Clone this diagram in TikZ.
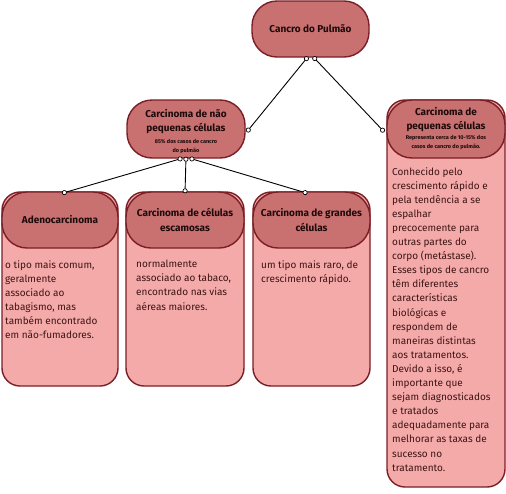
\documentclass[tikz,border=0pt]{standalone}
\usepackage{fontspec}
\setmainfont{Fira Sans}
\usetikzlibrary{arrows.meta}
\definecolor{hdr}{HTML}{C97171}
\definecolor{bodyc}{HTML}{F4AAA9}
\definecolor{bord}{HTML}{7B1E25}
\definecolor{hdrtxt}{HTML}{1E0A0A}
\definecolor{bodytxt}{HTML}{3D1414}
\tikzset{ctip/.tip={Circle[length=5pt,width=5pt,fill=white,line width=0.7pt]}}
\begin{document}
\begin{tikzpicture}[x=1pt,y=-1pt,
  hdrbox/.style={draw=bord, line width=1.4pt, fill=hdr, rounded corners=25pt, inner sep=0pt,
    text=hdrtxt, font=\fontsize{10}{14.5}\selectfont\bfseries, align=center},
  bodybox/.style={draw=bord, line width=1.4pt, fill=bodyc, rounded corners=18pt, inner sep=0pt},
  titletext/.style={inner sep=0pt, text=hdrtxt, font=\fontsize{10}{14}\selectfont\bfseries, align=center},
  subtext/.style={inner sep=0pt, text=hdrtxt, font=\fontsize{5.5}{9}\selectfont\bfseries, align=center},
  bodytext/.style={anchor=north west, inner sep=0pt, align=left, text=bodytxt, font=\fontsize{10}{14.1}\selectfont},
  conn/.style={draw=black, line width=0.9pt, ctip-ctip}
]
\useasboundingbox (0,0) rectangle (506,493);

% bodies
\node[bodybox, minimum width=118pt, minimum height=387pt] (scbody) at (446,293.5) {};
\node[bodybox, minimum width=116pt, minimum height=194pt] (adbody) at (60,289) {};
\node[bodybox, minimum width=118pt, minimum height=194pt] (esbody) at (185,289) {};
\node[bodybox, minimum width=117pt, minimum height=194pt] (grbody) at (311.5,289) {};

% headers
\node[hdrbox, minimum width=117pt, minimum height=56pt] (top) at (310.5,29) {Cancro do Pulmão};
\node[hdrbox, minimum width=118pt, minimum height=58pt] (nsc) at (186,129) {};
\node[hdrbox, minimum width=118pt, minimum height=58pt] (sc) at (446,129) {};
\node[hdrbox, minimum width=116pt, minimum height=56pt] (ad) at (60,220) {Adenocarcinoma};
\node[hdrbox, minimum width=118pt, minimum height=56pt] (es) at (185,220) {Carcinoma de células\\escamosas};
\node[hdrbox, minimum width=117pt, minimum height=56pt] (gr) at (311.5,220) {Carcinoma de grandes\\células};

% header texts with subtitles
\node[titletext] (nsct) at (186,122) {Carcinoma de não\\pequenas células};
\node[subtext] (nscs) at (186,146.5) {85\% dos casos de cancro\\do pulmão};
\node[titletext] (sct) at (446,119.5) {Carcinoma de\\pequenas células};
\node[subtext] (scs) at (446,142.5) {Representa cerca de 10-15\% dos\\casos de cancro do pulmão.};

% body texts
\node[bodytext] (adt) at (5,260) {o tipo mais comum,\\geralmente\\associado ao\\tabagismo, mas\\também encontrado\\em não-fumadores.};
\node[bodytext] (est) at (136,260) {normalmente\\associado ao tabaco,\\encontrado nas vias\\aéreas maiores.};
\node[bodytext] (grt) at (261,260) {um tipo mais raro, de\\crescimento rápido.};
\node[bodytext] (sctx) at (392,167) {Conhecido pelo\\crescimento rápido e\\pela tendência a se\\espalhar\\precocemente para\\outras partes do\\corpo (metástase).\\Esses tipos de cancro\\têm diferentes\\características\\biológicas e\\respondem de\\maneiras distintas\\aos tratamentos.\\Devido a isso, é\\importante que\\sejam diagnosticados\\e tratados\\adequadamente para\\melhorar as taxas de\\sucesso no\\tratamento.};

% connectors
\draw[conn] ([xshift=-2.5pt,yshift=1pt]top.south) -- ([xshift=1pt,yshift=-3pt]nsc.east);
\draw[conn] ([xshift=2.5pt,yshift=1pt]top.south) -- ([xshift=-2pt,yshift=-3pt]sc.west);
\draw[conn] ([xshift=-3.5pt,yshift=0.5pt]nsc.south) -- ([xshift=2pt,yshift=-2pt]ad.north);
\draw[conn] ([yshift=2pt]nsc.south) -- ([yshift=-2pt]es.north);
\draw[conn] ([xshift=3.5pt,yshift=0.5pt]nsc.south) -- ([xshift=-4pt,yshift=-2pt]gr.north);
\end{tikzpicture}
\end{document}
